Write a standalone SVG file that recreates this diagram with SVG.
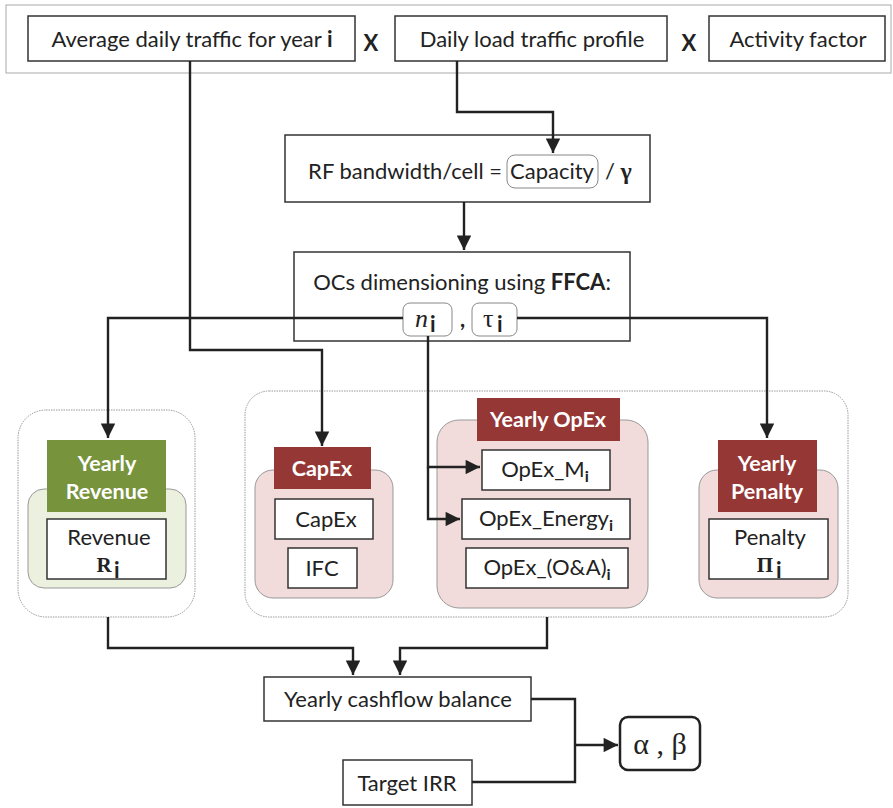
<svg xmlns="http://www.w3.org/2000/svg" width="893" height="808" viewBox="0 0 893 808">
<style>
.t{font-family:Lato,"Liberation Sans",sans-serif;font-size:22px;fill:#222}
.h{font-family:Lato,"Liberation Sans",sans-serif;font-size:21.5px;font-weight:bold;fill:#fff}
.s{font-family:"Liberation Serif",serif;fill:#222}
.b{fill:#fff;stroke:#333;stroke-width:1.5}
.rb{fill:#fff;stroke:#888;stroke-width:1}
.grp{fill:#fff;stroke:#999;stroke-width:1;stroke-dasharray:1.5 1}
.pink{fill:#f2dcdb;stroke:#999;stroke-width:1}
.green{fill:#ebf1de;stroke:#999;stroke-width:1}
.red{fill:#953735}
.gr{fill:#77933c}
.c{fill:none;stroke:#222;stroke-width:2.4}
</style>
<defs>
<marker id="a" viewBox="0 0 10 10" refX="10" refY="5" markerWidth="6.5" markerHeight="6" markerUnits="strokeWidth" orient="auto"><path d="M0,0L10,5L0,10z" fill="#222"/></marker>
</defs>
<rect width="893" height="808" fill="#fff"/>
<g id="top">
<rect x="6" y="5" width="885" height="68" fill="#fff" stroke="#aaa" stroke-width="1"/>
<rect class="b" x="28" y="16" width="327" height="45"/>
<text class="t" x="192" y="47" text-anchor="middle">Average daily traffic for year <tspan font-weight="bold">i</tspan></text>
<text class="t" x="371" y="51" text-anchor="middle" font-size="26" font-weight="bold">X</text>
<rect class="b" x="395" y="16" width="272" height="45"/>
<text class="t" x="532" y="47" text-anchor="middle">Daily load traffic profile</text>
<text class="t" x="689" y="51" text-anchor="middle" font-size="26" font-weight="bold">X</text>
<rect class="b" x="709" y="16" width="176" height="45"/>
<text class="t" x="798" y="47" text-anchor="middle">Activity factor</text>
</g>
<g id="rf">
<rect class="b" x="285" y="135" width="365" height="67"/>
<rect class="rb" x="507" y="155" width="91" height="33" rx="8"/>
<text class="t" x="502" y="179" text-anchor="end">RF bandwidth/cell =</text>
<text class="t" x="552" y="179" text-anchor="middle">Capacity</text>
<text class="t" x="605" y="179">/ <tspan class="s" font-weight="bold" font-size="24">γ</tspan></text>
</g>
<g id="ocs">
<rect class="b" x="294" y="252" width="336" height="89"/>
<text class="t" x="462" y="290" text-anchor="middle">OCs dimensioning using <tspan font-weight="bold">FFCA</tspan>:</text>
<rect class="rb" x="403" y="303" width="49" height="33" rx="7"/>
<text class="s" x="415" y="327" font-size="26" font-style="italic">n</text><text class="t" x="430" y="332" font-weight="bold" font-size="16">i</text>
<text class="t" x="460" y="327" font-weight="bold">,</text>
<rect class="rb" x="472" y="303" width="45" height="33" rx="7"/>
<text class="s" x="483" y="327" font-size="26">τ</text><text class="t" x="497" y="332" font-weight="bold" font-size="16">i</text>
</g>
<g id="revenue">
<rect class="grp" x="18" y="410" width="177" height="207" rx="28"/>
<rect class="green" x="28" y="489" width="158" height="99" rx="16"/>
<rect class="gr" x="47" y="440" width="119" height="72"/>
<text class="h" x="107" y="471" text-anchor="middle">Yearly</text>
<text class="h" x="107" y="499" text-anchor="middle">Revenue</text>
<rect class="b" x="47" y="519" width="119" height="60"/>
<text class="t" x="109" y="545" text-anchor="middle">Revenue</text>
<text class="s" x="104" y="572" text-anchor="middle" font-weight="bold" font-size="21">R</text><text class="t" x="114" y="578" font-weight="bold" font-size="15">i</text>
</g>
<g id="costs">
<rect class="grp" x="245" y="391" width="603" height="226" rx="24"/>
</g>
<g id="capex">
<rect class="pink" x="255" y="470" width="138" height="128" rx="18"/>
<rect class="red" x="274" y="447" width="97" height="42"/>
<text class="h" x="322" y="476" text-anchor="middle">CapEx</text>
<rect class="b" x="275" y="499" width="98" height="40"/>
<text class="t" x="326" y="527" text-anchor="middle">CapEx</text>
<rect class="b" x="288" y="548" width="69" height="40"/>
<text class="t" x="322" y="576" text-anchor="middle">IFC</text>
</g>
<g id="opex">
<rect class="pink" x="437" y="420" width="211" height="188" rx="22"/>
<rect class="red" x="477" y="398" width="143" height="43"/>
<text class="h" x="548" y="427" text-anchor="middle">Yearly OpEx</text>
<rect class="b" x="482" y="450" width="128" height="40"/>
<text class="t" x="545" y="477" text-anchor="middle">OpEx_M<tspan font-weight="bold" font-size="16" dy="5">i</tspan></text>
<rect class="b" x="462" y="499" width="168" height="40"/>
<text class="t" x="546" y="526" text-anchor="middle">OpEx_Energy<tspan font-weight="bold" font-size="16" dy="5">i</tspan></text>
<rect class="b" x="466" y="548" width="162" height="40"/>
<text class="t" x="547" y="575" text-anchor="middle">OpEx_(O&amp;A)<tspan font-weight="bold" font-size="16" dy="5">i</tspan></text>
</g>
<g id="penalty">
<rect class="pink" x="699" y="470" width="139" height="128" rx="18"/>
<rect class="red" x="718" y="440" width="99" height="72"/>
<text class="h" x="767" y="471" text-anchor="middle">Yearly</text>
<text class="h" x="767" y="499" text-anchor="middle">Penalty</text>
<rect class="b" x="709" y="519" width="119" height="60"/>
<text class="t" x="770" y="545" text-anchor="middle">Penalty</text>
<text class="s" x="765" y="572" text-anchor="middle" font-weight="bold" font-size="21">Π</text><text class="t" x="776" y="578" font-weight="bold" font-size="15">i</text>
</g>
<g id="cashflow">
<rect class="b" x="264" y="677" width="267" height="44"/>
<text class="t" x="398" y="707" text-anchor="middle">Yearly cashflow balance</text>
</g>
<g id="irr">
<rect class="b" x="343" y="760" width="129" height="45"/>
<text class="t" x="407" y="791" text-anchor="middle">Target IRR</text>
</g>
<g id="alphabeta">
<rect x="620" y="717" width="80" height="53" rx="8" fill="#fff" stroke="#222" stroke-width="2.5"/>
<text class="s" x="660" y="754" text-anchor="middle" font-size="30">α , β</text>
</g>
<g id="connectors">
<path class="c" d="M190,61V350H322V446" marker-end="url(#a)"/>
<path class="c" d="M457,61V112H553V153" marker-end="url(#a)"/>
<path class="c" d="M464,202V250" marker-end="url(#a)"/>
<path class="c" d="M403,318H108V438" marker-end="url(#a)"/>
<path class="c" d="M517,318H767V438" marker-end="url(#a)"/>
<path class="c" d="M428,336V467H480" marker-end="url(#a)"/>
<path class="c" d="M428,467V519H460" marker-end="url(#a)"/>
<path class="c" d="M108,617V648H353V675" marker-end="url(#a)"/>
<path class="c" d="M547,617V648H400V675" marker-end="url(#a)"/>
<path class="c" d="M531,699H575V782H472"/>
<path class="c" d="M575,745H618" marker-end="url(#a)"/>
</g>
</svg>
